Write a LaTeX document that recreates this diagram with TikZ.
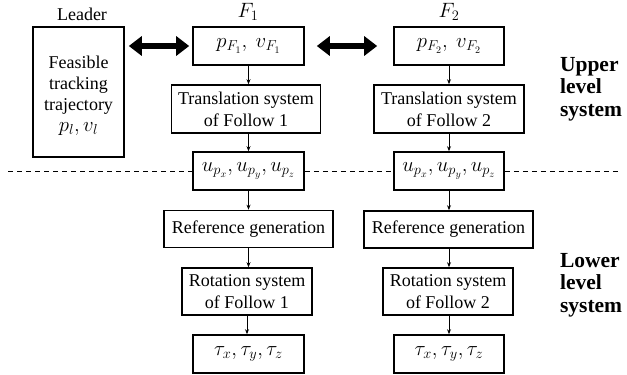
\documentclass[tikz,border=0pt]{standalone}
\usepackage{fontspec}
\setmainfont{Liberation Serif}[Ligatures=TeX]
\usetikzlibrary{arrows.meta}
\begin{document}
\begin{tikzpicture}[x=1pt,y=-1pt,
  box/.style={draw,line width=1.6pt,fill=white,align=center,inner sep=1pt,
    font=\rmfamily\fontsize{18}{22}\selectfont},
  mbox/.style={box,font=\rmfamily\fontsize{20}{22}\selectfont},
  flow/.style={line width=0.8pt,-{Stealth[length=5pt,width=4pt]}},
  big/.style={line width=6pt,{Triangle[length=13pt,width=19pt]}-{Triangle[length=13pt,width=19pt]}},
  lbl/.style={font=\rmfamily\fontsize{18}{22}\selectfont},
  side/.style={font=\rmfamily\fontsize{21.5}{22.5}\selectfont\bfseries,align=left,anchor=west}]
\useasboundingbox (0,0) rectangle (627,375);
% left leader
\node[lbl] (leaderlbl) at (82,14) {Leader};
\node[box,minimum width=91pt,minimum height=130pt] (leader) at (78.5,92) {};
\node[lbl,align=center,font=\rmfamily\fontsize{18}{21}\selectfont] (leadertxt) at (78.5,96)
  {Feasible\\tracking\\trajectory\\{\fontsize{20}{21}\selectfont$p_l, v_l$}};
% column 1
\node[lbl] (f1lbl) at (248,12) {\fontsize{20}{22}\selectfont$F_1$};
\node[mbox,minimum width=111pt,minimum height=38pt] (pf1) at (248.5,46) {$p_{F_1},\ v_{F_1}$};
\node[box,minimum width=149pt,minimum height=48pt] (tr1) at (246,109) {Translation system\\of Follow 1};
\node[mbox,minimum width=111pt,minimum height=38pt] (u1) at (248.5,171) {$u_{p_x}, u_{p_y}, u_{p_z}$};
\node[box,minimum width=169pt,minimum height=37pt] (rg1) at (248.5,229) {Reference generation};
\node[box,minimum width=130pt,minimum height=47pt] (rot1) at (247,291.5) {Rotation system\\of Follow 1};
\node[mbox,minimum width=111pt,minimum height=38pt] (tau1) at (248.5,354) {$\tau_x, \tau_y, \tau_z$};
% column 2
\node[lbl] (f2lbl) at (449,12) {\fontsize{20}{22}\selectfont$F_2$};
\node[mbox,minimum width=110pt,minimum height=38pt] (pf2) at (449,46) {$p_{F_2},\ v_{F_2}$};
\node[box,minimum width=150pt,minimum height=48pt] (tr2) at (449,109) {Translation system\\of Follow 2};
\node[mbox,minimum width=110pt,minimum height=38pt] (u2) at (449,171) {$u_{p_x}, u_{p_y}, u_{p_z}$};
\node[box,minimum width=169pt,minimum height=37pt] (rg2) at (448.5,229.5) {Reference generation};
\node[box,minimum width=130pt,minimum height=47pt] (rot2) at (448,291.5) {Rotation system\\of Follow 2};
\node[mbox,minimum width=110pt,minimum height=38pt] (tau2) at (449,354) {$\tau_x, \tau_y, \tau_z$};
% side labels
\node[side] (upper) at (556.5,89) {Upper\\level\\system};
\node[side] (lower) at (556.5,285) {Lower\\level\\system};
% dashed separator
\coordinate (dl) at (8,171);
\coordinate (dr) at (621,171);
\draw[line width=0.8pt,dash pattern=on 5pt off 4pt] (dl) -- (u1.west);
\draw[line width=0.8pt,dash pattern=on 5pt off 4pt] (u1.east) -- (u2.west);
\draw[line width=0.8pt,dash pattern=on 5pt off 4pt] (u2.east) -- (dr);
% flows
\draw[flow] (pf1) -- (pf1.south |- tr1.north);
\draw[flow] (tr1.south -| pf1) -- (u1.north);
\draw[flow] (u1) -- (u1.south |- rg1.north);
\draw[flow] (rg1.south -| u1) -- (u1.south |- rot1.north);
\draw[flow] (rot1.south) -- (rot1.south |- tau1.north);
\draw[flow] (pf2) -- (pf2.south |- tr2.north);
\draw[flow] (tr2.south) -- (u2.north);
\draw[flow] (u2.south) -- (u2.south |- rg2.north);
\draw[flow] (rg2.south -| u2) -- (u2.south |- rot2.north);
\draw[flow] (rot2.south -| u2) -- (tau2.north);
% big double arrows
\draw[big,shorten <=4pt,shorten >=3pt] (leader.east |- pf1.west) -- (pf1.west);
\draw[big,shorten <=12pt,shorten >=16pt] (pf1.east) -- (pf2.west);
\end{tikzpicture}
\end{document}
